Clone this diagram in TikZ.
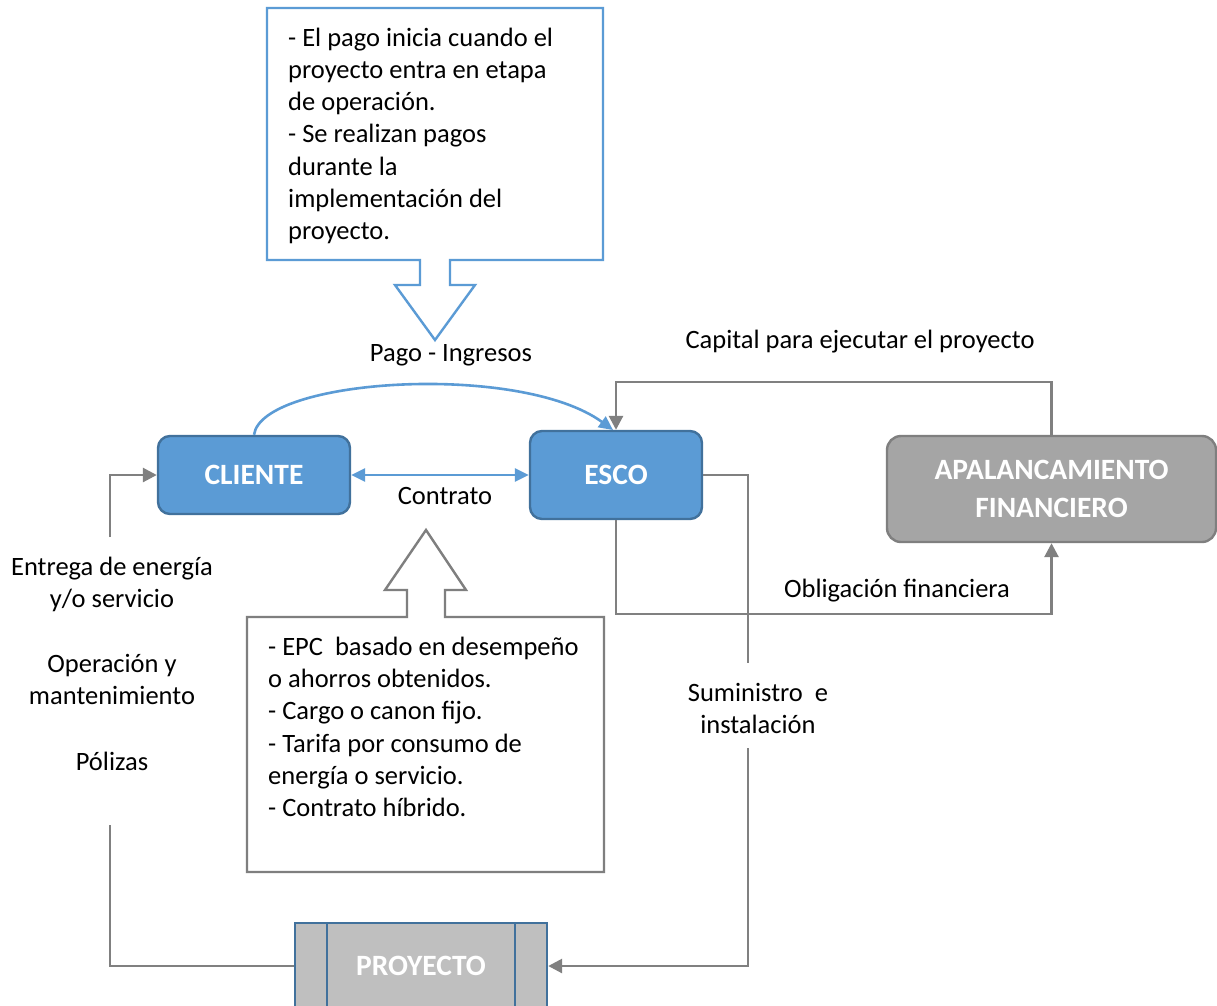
\documentclass[tikz,border=0pt]{standalone}
\usepackage{fontspec}
\setmainfont{Carlito}
\usetikzlibrary{arrows.meta}
\definecolor{accblue}{HTML}{5B9BD5}
\definecolor{accbluedark}{HTML}{41719C}
\definecolor{accgray}{HTML}{A5A5A5}
\definecolor{accgraydark}{HTML}{7F7F7F}
\definecolor{linegray}{HTML}{808080}
\definecolor{projgray}{HTML}{BFBFBF}
\tikzset{
  reg/.style={font=\fontsize{26.5}{32.2}\selectfont, inner sep=0pt},
  boldtxt/.style={font=\fontsize{29.5}{38}\selectfont\bfseries, text=white},
  bluebox/.style={boldtxt, rounded corners=12pt, fill=accblue, draw=accbluedark, line width=2.4pt, inner sep=0pt},
  graybox/.style={boldtxt, rounded corners=14pt, fill=accgray, draw=accgraydark, line width=2.4pt, inner sep=0pt, align=center},
  projbox/.style={boldtxt, fill=projgray, draw=accbluedark, line width=2.4pt, inner sep=0pt},
  gline/.style={draw=linegray, line width=2.8pt},
  garrow/.style={gline, -{Triangle[length=14pt,width=14pt]}},
  barrow/.style={draw=accblue, line width=2.6pt, -{Triangle[length=14pt,width=13pt]}},
  bdarrow/.style={draw=accblue, line width=2.6pt, {Triangle[length=14pt,width=13pt]}-{Triangle[length=14pt,width=13pt]}},
}
\begin{document}
\begin{tikzpicture}[x=1pt,y=-1pt]
\useasboundingbox (0,0) rectangle (1217,1005);
\fill[white] (0,0) rectangle (1217,1005);

% top callout
\draw[draw=accblue, line width=2.4pt, fill=white, line join=miter]
  (267,8) -- (603,8) -- (603,260) -- (450,260) -- (450,285) -- (475,285) -- (435,340)
  -- (395,285) -- (420,285) -- (420,260) -- (267,260) -- cycle;
\node[reg, anchor=base west, align=left] (ctop) at (288,239.5)
  {- El pago inicia cuando el\\proyecto entra en etapa\\de operación.\\- Se realizan pagos\\durante la\\implementación del\\proyecto.};

% bottom callout
\draw[draw=accgraydark, line width=2.4pt, fill=white, line join=miter]
  (247,617) -- (407,617) -- (407,590) -- (385,590) -- (426,530) -- (466,590)
  -- (445,590) -- (445,617) -- (604,617) -- (604,872) -- (247,872) -- cycle;
\node[reg, anchor=base west, align=left] (cbot) at (268,816.5)
  {- EPC\ \ basado en desempeño\\o ahorros obtenidos.\\- Cargo o canon fijo.\\- Tarifa por consumo de\\energía o servicio.\\- Contrato híbrido.};

% main nodes
\node[bluebox, minimum width=192pt, minimum height=78pt] (cliente) at (254,475) {CLIENTE};
\node[bluebox, minimum width=172pt, minimum height=88pt] (esco) at (616,475) {ESCO};
\node[graybox, minimum width=329pt, minimum height=106pt] (apal) at (1051.5,489) {APALANCAMIENTO\\FINANCIERO};
\node[projbox, minimum width=252pt, minimum height=86pt] (proy) at (421,966) {PROYECTO};
\draw[draw=accbluedark, line width=2.4pt] (327,923) -- (327,1010) (515,923) -- (515,1010);

% labels
\node[reg, anchor=base] (lpago) at (451,361.5) {Pago - Ingresos};
\node[reg, anchor=base] (lcap) at (860,348.5) {Capital para ejecutar el proyecto};
\node[reg, anchor=base] (lcont) at (445,504.5) {Contrato};
\node[reg, anchor=base] (lobl) at (897,597.5) {Obligación financiera};
\node[reg, anchor=base, align=center] (lsum) at (758,733.5) {Suministro\ \ e\\instalación};
\node[reg, anchor=base, align=center] (lent) at (112,607.5) {Entrega de energía\\y/o servicio};
\node[reg, anchor=base, align=center] (lope) at (112,704.5) {Operación y\\mantenimiento};
\node[reg, anchor=base] (lpol) at (112,770.5) {Pólizas};

% connectors
\draw[bdarrow] (cliente.east) -- (esco.east -| esco.west);
\draw[barrow] (cliente.north) .. controls (262,378) and (520,362) .. (613,430);
\draw[garrow] (apal.north) -- (apal.north |- 0,382) -| (esco.north);
\draw[garrow] (esco.south) -- (esco.south |- 0,614) -| (apal.south);
\coordinate (s1) at (748,663);
\coordinate (s2) at (748,748);
\draw[gline] (esco.east) -| (s1);
\draw[garrow] (s2) |- (proy.east);
\coordinate (l1) at (110,825);
\coordinate (l2) at (110,537);
\draw[gline] (proy.west) -| (l1);
\draw[garrow] (l2) |- (cliente.west);
\end{tikzpicture}
\end{document}
